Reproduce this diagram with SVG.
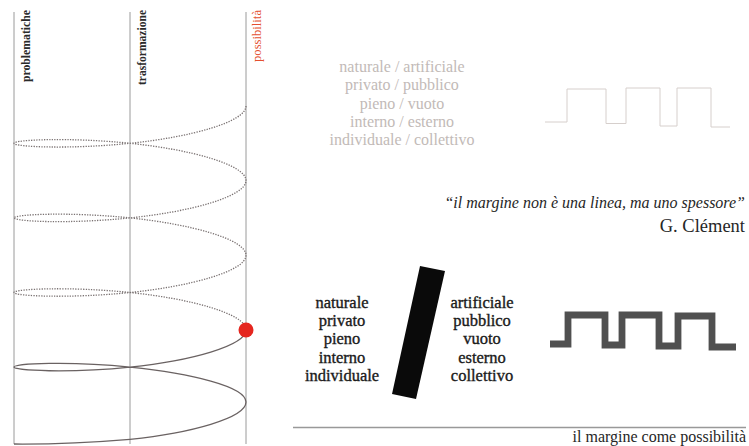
<svg xmlns="http://www.w3.org/2000/svg" width="749" height="446" viewBox="0 0 749 446">
<style>
.axis{stroke:#9a9a9a;stroke-width:1;fill:none}
.lbl{font-family:"Liberation Serif","Times New Roman",serif;font-size:13px;font-weight:bold;fill:#2a2a2a}
.dot{fill:none;stroke:#7a7272;stroke-width:1.3;stroke-dasharray:1.3 1.3}
.sol{fill:none;stroke:#6a6262;stroke-width:1.3}
.gray{font-family:"Liberation Serif","Times New Roman",serif;font-size:16px;fill:#c2bab7;text-anchor:middle}
.blk{font-family:"Liberation Serif","Times New Roman",serif;font-size:16.5px;fill:#1a1a1a;stroke:#1a1a1a;stroke-width:0.35;text-anchor:middle}
.q{font-family:"Liberation Serif","Times New Roman",serif;fill:#262626;text-anchor:end}
</style>
<rect width="749" height="446" fill="#ffffff"/>
<g id="axes">
<line class="axis" x1="14" y1="12" x2="14" y2="444"/>
<line class="axis" x1="130" y1="12" x2="130" y2="444"/>
<line class="axis" x1="246" y1="12" x2="246" y2="444"/>
<text class="lbl" transform="translate(29.5,10) rotate(-90)" text-anchor="end" textLength="72" lengthAdjust="spacingAndGlyphs">problematiche</text>
<text class="lbl" transform="translate(145.5,10) rotate(-90)" text-anchor="end" textLength="75" lengthAdjust="spacingAndGlyphs">trasformazione</text>
<text class="lbl" transform="translate(260.5,10) rotate(-90)" text-anchor="end" textLength="52" lengthAdjust="spacingAndGlyphs" style="fill:#e4502f;font-weight:normal">possibilità</text>
</g>
<g id="connectors">
<path class="dot" d="M246,106 C246,121.98 190.74,137.08 130,143.3 C69.26,149.52 14,146.85 14,143.3 C14,139.75 69.26,137.08 130,143.3 C190.74,149.52 246,164.62 246,180.6 C246,196.58 190.74,211.68 130,217.9 C69.26,224.12 14,221.45 14,217.9 C14,214.35 69.26,211.68 130,217.9 C190.74,224.12 246,239.22 246,255.2 C246,271.18 190.74,286.28 130,292.5 C69.26,298.72 14,296.05 14,292.5 C14,288.95 69.26,286.28 130,292.5 C190.74,298.72 246,313.82 246,329.8"/>
<path class="sol" d="M246,329.8 C246,345.78 190.74,360.88 130,367.1 C69.26,373.32 14,370.65 14,367.1 C14,363.55 69.26,360.88 130,367.1 C190.74,373.32 246,386.42 246,402 C246,418 190.74,433 130,439.3 C80,443.5 40,444.2 14,444"/>
</g>
<g id="red-dot">
<circle cx="246" cy="330" r="7.5" fill="#e5261f"/>
</g>
<g id="pairs-gray">
<text class="gray" x="402" y="72">naturale / artificiale</text>
<text class="gray" x="402" y="90">privato / pubblico</text>
<text class="gray" x="402" y="108.5">pieno / vuoto</text>
<text class="gray" x="402" y="127">interno / esterno</text>
<text class="gray" x="402" y="145">individuale / collettivo</text>
</g>
<g id="thin-wave">
<path d="M545,122 H567 V89 H606 V123.5 H626 V88 H660 V126 H677 V88 H711 V127 H730" fill="none" stroke="#d6cfcc" stroke-width="1"/>
</g>
<g id="quote">
<text class="q" x="745" y="208" font-size="16" font-style="italic">“il margine non è una linea, ma uno spessore”</text>
<text class="q" x="745" y="231.5" font-size="18.5">G. Clément</text>
</g>
<g id="left-words">
<text class="blk" x="342" y="308">naturale</text>
<text class="blk" x="342" y="326">privato</text>
<text class="blk" x="342" y="344">pieno</text>
<text class="blk" x="342" y="362.5">interno</text>
<text class="blk" x="342" y="381">individuale</text>
</g>
<g id="bar">
<polygon points="420,266 445,271 416,399 392,394" fill="#0a0a0a"/>
</g>
<g id="right-words">
<text class="blk" x="482" y="308">artificiale</text>
<text class="blk" x="482" y="326">pubblico</text>
<text class="blk" x="482" y="344">vuoto</text>
<text class="blk" x="482" y="362.5">esterno</text>
<text class="blk" x="482" y="381">collettivo</text>
</g>
<g id="thick-wave">
<path d="M550,344 H568 V315 H605 V345 H622 V315 H659 V346 H678 V316 H712 V347 H736" fill="none" stroke="#505050" stroke-width="6.8" stroke-linejoin="miter"/>
</g>
<g id="footer">
<line x1="293" y1="427.5" x2="746" y2="427.5" stroke="#999" stroke-width="1.5"/>
<text class="q" x="746" y="442" font-size="16">il margine come possibilità</text>
</g>
</svg>
